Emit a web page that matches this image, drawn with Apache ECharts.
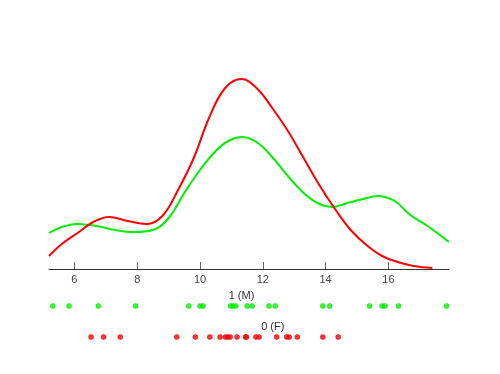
<!DOCTYPE html>
<html>
<head>
<meta charset="utf-8">
<script src="https://cdn.jsdelivr.net/npm/echarts@6/dist/echarts.min.js"></script>
<style>html,body{margin:0;padding:0;background:#fff;}#c{width:500px;height:374px;}</style>
</head>
<body>
<div id="c"></div>
<script>
// Density curve of group 0 (F): [x, density]
var redCurve = [[5.19,0.013],[5.6,0.025],[6.1,0.036],[6.6,0.047],[7.1,0.052],[7.7,0.048],[8.3,0.045],[8.8,0.053],[9.3,0.079],[9.8,0.111],[10.3,0.152],[10.8,0.181],[11.32,0.190],[11.8,0.181],[12.3,0.161],[12.8,0.138],[13.3,0.111],[13.8,0.084],[14.3,0.060],[14.8,0.039],[15.3,0.024],[15.8,0.013],[16.3,0.007],[16.8,0.003],[17.4,0.001]];
// Density curve of group 1 (M)
var greenCurve = [[5.19,0.036],[5.6,0.042],[6.1,0.045],[6.7,0.043],[7.3,0.039],[7.9,0.037],[8.5,0.039],[9.0,0.051],[9.5,0.076],[10.0,0.099],[10.5,0.118],[10.9,0.128],[11.32,0.132],[11.8,0.127],[12.3,0.112],[12.8,0.093],[13.3,0.076],[13.8,0.065],[14.2,0.062],[14.7,0.066],[15.2,0.070],[15.65,0.073],[16.2,0.068],[16.7,0.054],[17.2,0.044],[17.6,0.035],[17.93,0.027]];
// Raw observations (rug)
var greenPoints = [5.31,5.83,6.76,7.95,9.64,10.0,10.1,10.97,11.05,11.14,11.50,11.66,12.20,12.40,13.91,14.13,15.40,15.80,15.89,16.32,17.85];
var redPoints = [6.53,6.93,7.46,9.26,9.85,10.31,10.64,10.81,10.88,10.96,11.18,11.45,11.48,11.78,11.88,12.44,12.76,12.84,13.10,13.91,14.40];
var tickValues = [6,8,10,12,14,16];
var groupLabels = ['1 (M)','0 (F)'];
var xMin = 5.19, xMax = 17.93;

var chart = echarts.init(document.getElementById('c'), null, {renderer:'canvas'});
chart.setOption({
  animation:false,
  backgroundColor:'#fff',
  grid:[
    {left:49, right:51, top:69, height:200},
    {left:49, right:51, top:306, height:31}
  ],
  xAxis:[
    {type:'value', gridIndex:0, min:xMin, max:xMax,
     axisLine:{show:true, onZero:false, lineStyle:{color:'#333', width:1}},
     axisTick:{show:true, inside:true, length:7, customValues:tickValues, lineStyle:{color:'#666'}},
     axisLabel:{show:true, customValues:tickValues, margin:5, fontSize:11, color:'#444', fontFamily:'Liberation Sans, Arial, sans-serif'},
     splitLine:{show:false}},
    {type:'value', gridIndex:1, min:xMin, max:xMax, show:false}
  ],
  yAxis:[
    {type:'value', gridIndex:0, min:0, max:0.2, show:false},
    {type:'value', gridIndex:1, min:0, max:1, show:false}
  ],
  series:[
    {type:'line', xAxisIndex:0, yAxisIndex:0, data:greenCurve, smooth:0.4, showSymbol:false, lineStyle:{color:'#00ee00', width:2}, z:2},
    {type:'line', xAxisIndex:0, yAxisIndex:0, data:redCurve, smooth:0.4, showSymbol:false, lineStyle:{color:'#ff0000', width:2}, z:3},
    {type:'scatter', xAxisIndex:1, yAxisIndex:1, clip:false, symbolSize:5,
     data:greenPoints.map(function(v){return [v,1];}),
     itemStyle:{color:'#00ff00', borderColor:'#00cc00', borderWidth:0.6}},
    {type:'scatter', xAxisIndex:1, yAxisIndex:1, clip:false, symbolSize:5,
     data:redPoints.map(function(v){return [v,0];}),
     itemStyle:{color:'#ff0000', borderColor:'#dd0000', borderWidth:0.6}}
  ],
  graphic:[
    {type:'text', x:241.5, y:296, style:{text:groupLabels[0], align:'center', verticalAlign:'middle', fill:'#333', font:'11px Liberation Sans, Arial, sans-serif'}},
    {type:'text', x:272.8, y:326.7, style:{text:groupLabels[1], align:'center', verticalAlign:'middle', fill:'#333', font:'11px Liberation Sans, Arial, sans-serif'}}
  ]
});
</script>
</body>
</html>
